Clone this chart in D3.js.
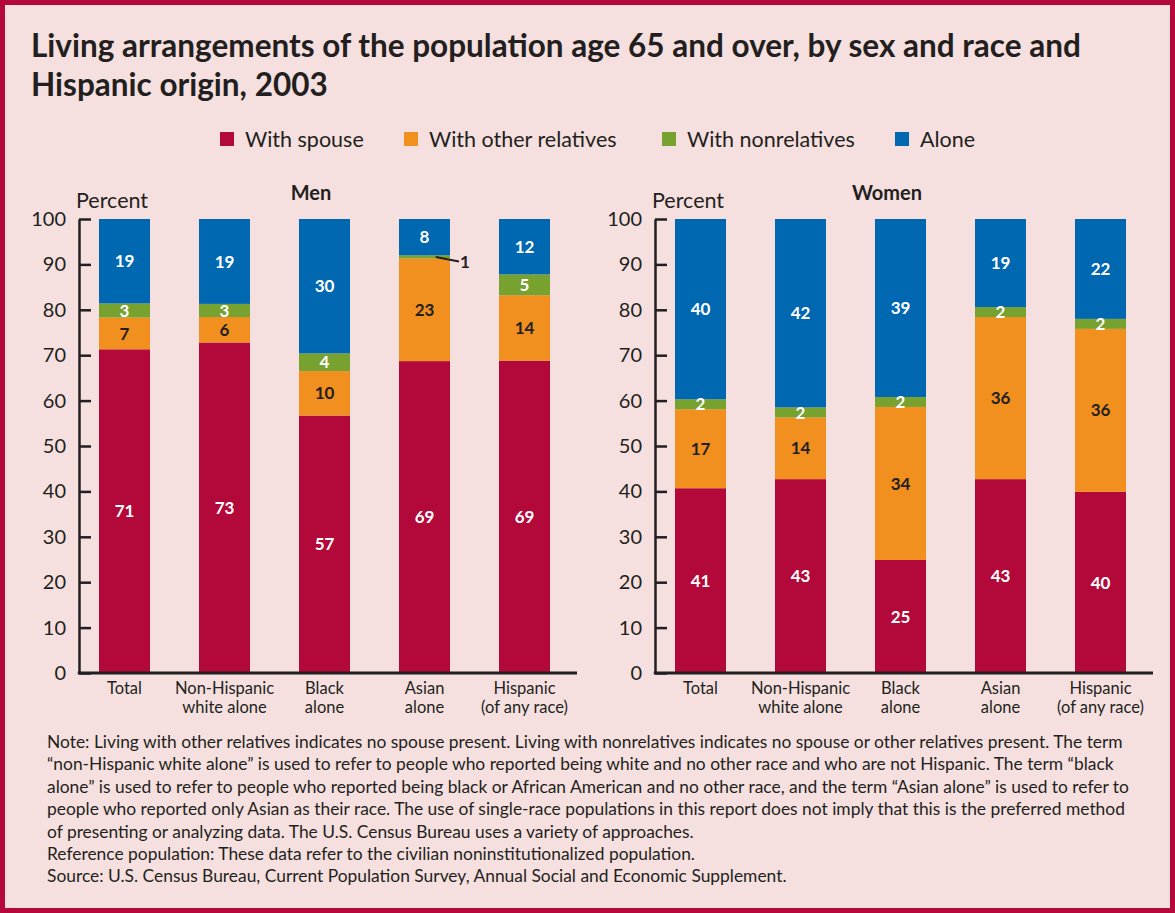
<!DOCTYPE html>
<html>
<head>
<meta charset="utf-8">
<script src="https://cdn.jsdelivr.net/npm/d3@7"></script>
<style>
  body { margin: 0; background: #f5dfdf; }
  svg { display: block; }
</style>
</head>
<body>
<svg id="chart" width="1175" height="913"></svg>
<script>
// Data
const categories = ['Total', 'Non-Hispanic white alone', 'Black alone', 'Asian alone', 'Hispanic (of any race)'];
const categoryLines = [['Total'], ['Non-Hispanic', 'white alone'], ['Black', 'alone'], ['Asian', 'alone'], ['Hispanic', '(of any race)']];
const seriesKeys = ['spouse', 'otherRelatives', 'nonrelatives', 'alone'];
const seriesNames = ['With spouse', 'With other relatives', 'With nonrelatives', 'Alone'];
const yTicks = [0, 10, 20, 30, 40, 50, 60, 70, 80, 90, 100];

const menSpouse         = [71.3, 72.8, 56.7, 68.7, 68.8];
const menOtherRelatives = [7.0, 5.6, 9.8, 22.6, 14.4];
const menNonrelatives   = [3.1, 2.9, 3.9, 0.7, 4.6];
const menAlone          = [18.6, 18.7, 29.6, 8.0, 12.2];

const womenSpouse         = [40.7, 42.7, 24.9, 42.7, 39.9];
const womenOtherRelatives = [17.4, 13.6, 33.7, 35.7, 35.9];
const womenNonrelatives   = [2.2, 2.2, 2.2, 2.2, 2.2];
const womenAlone          = [39.7, 41.5, 39.2, 19.4, 22.0];

const noteLines = [
  'Note:  Living with other relatives indicates no spouse present. Living with nonrelatives indicates no spouse or other relatives present.  The term',
  '\u201cnon-Hispanic white alone\u201d is used to refer to people who reported being white and no other race and who are not Hispanic.  The term \u201cblack',
  'alone\u201d is used to refer to people who reported being black or African American and no other race, and the term \u201cAsian alone\u201d is used to refer to',
  'people who reported only Asian as their race.  The use of single-race populations in this report does not imply that this is the preferred method',
  'of presenting or analyzing data.  The U.S. Census Bureau uses a variety of approaches.',
  'Reference population: These data refer to the civilian noninstitutionalized population.',
  'Source:  U.S. Census Bureau, Current Population Survey, Annual Social and Economic Supplement.'
];

// Variables
const width = 1175, height = 913,
      font = 'Lato, "Open Sans", sans-serif',
      ink = '#231f20',
      colors = ['#b3083a', '#f18f1f', '#78a22f', '#0067b1'],
      labelColors = ['#ffffff', ink, '#ffffff', '#ffffff'];

const svg = d3.select('#chart');

// Frame
svg.append('rect')
   .attr('x', 2.5).attr('y', 2.5)
   .attr('width', width - 5).attr('height', height - 5)
   .attr('fill', '#f5dfdf')
   .attr('stroke', '#b5093b')
   .attr('stroke-width', 5);

// Title
const title = svg.append('text')
   .attr('font-family', font)
   .attr('font-weight', 'bold')
   .attr('font-size', 31.5)
   .attr('fill', ink);
title.append('tspan').attr('x', 31).attr('y', 57)
   .text('Living arrangements of the population age 65 and over, by sex and race and');
title.append('tspan').attr('x', 31).attr('y', 96)
   .text('Hispanic origin, 2003');

// Legend
const legendX = [220, 404, 662, 895];
const legend = svg.append('g').selectAll('g')
   .data(seriesNames)
   .enter()
   .append('g')
   .attr('transform', (d, i) => `translate(${legendX[i]}, 132)`);
legend.append('rect')
   .attr('width', 14).attr('height', 14)
   .attr('fill', (d, i) => colors[i]);
legend.append('text')
   .attr('x', 25).attr('y', 15)
   .attr('font-family', font)
   .attr('font-size', 21.5)
   .attr('fill', ink)
   .text(d => d);

// Scales
const yScale = d3.scaleLinear()
                 .domain([0, 100])
                 .range([673, 219]);

const panels = [
  {name: 'Men', x0: 79, values: [menSpouse, menOtherRelatives, menNonrelatives, menAlone]},
  {name: 'Women', x0: 655, values: [womenSpouse, womenOtherRelatives, womenNonrelatives, womenAlone]}
];

const stack = d3.stack().keys(seriesKeys);

panels.forEach(function(p) {
  const rows = categories.map(function(c, i) {
    const row = {category: c, index: i};
    seriesKeys.forEach((k, s) => row[k] = p.values[s][i]);
    return row;
  });
  const series = stack(rows);

  const xScale = d3.scaleBand()
                   .domain(categories)
                   .range([p.x0 - 4.5, p.x0 + 495.5])
                   .paddingInner(0.49)
                   .paddingOuter(0.245);

  const g = svg.append('g');

  // Bars
  g.selectAll('g.series')
   .data(series)
   .enter()
   .append('g')
   .attr('class', 'series')
   .attr('fill', (d, i) => colors[i])
   .selectAll('rect')
   .data(d => d)
   .enter()
   .append('rect')
   .attr('x', d => xScale(d.data.category))
   .attr('width', xScale.bandwidth())
   .attr('y', d => yScale(d[1]))
   .attr('height', d => yScale(d[0]) - yScale(d[1]));

  // Value labels
  series.forEach(function(s, si) {
    s.forEach(function(d) {
      const v = p.values[si][d.data.index];
      const cx = xScale(d.data.category) + xScale.bandwidth() / 2;
      const cy = (yScale(d[0]) + yScale(d[1])) / 2;
      if (v < 1) {
        // small slice: label outside with a leader line
        const x1 = xScale(d.data.category) + xScale.bandwidth() * 0.72,
              x2 = xScale(d.data.category) + xScale.bandwidth() + 9;
        g.append('line')
         .attr('x1', x1).attr('y1', cy)
         .attr('x2', x2).attr('y2', cy + 4.5)
         .attr('stroke', ink).attr('stroke-width', 2);
        g.append('text')
         .attr('x', x2 + 1).attr('y', cy + 4.5)
         .attr('dy', '0.36em')
         .attr('font-family', font).attr('font-weight', 'bold').attr('font-size', 17)
         .attr('fill', ink)
         .text(Math.round(v));
      } else {
        g.append('text')
         .attr('x', cx).attr('y', cy)
         .attr('dy', '0.36em')
         .attr('text-anchor', 'middle')
         .attr('font-family', font).attr('font-weight', 'bold').attr('font-size', 17)
         .attr('fill', labelColors[si])
         .text(Math.round(v));
      }
    });
  });

  // Y axis
  const yAxis = g.append('g')
     .attr('transform', `translate(${p.x0}, 0)`)
     .call(d3.axisLeft(yScale).tickValues(yTicks).tickSizeInner(-12).tickSizeOuter(0).tickPadding(13));
  yAxis.select('.domain').attr('stroke', ink).attr('stroke-width', 2.5);
  yAxis.selectAll('.tick line').attr('stroke', ink).attr('stroke-width', 2.5);
  yAxis.selectAll('.tick text')
     .attr('font-family', font).attr('font-size', 20).attr('fill', ink);

  // Baseline
  g.append('line')
   .attr('x1', p.x0 - 1.25).attr('x2', p.x0 + 498)
   .attr('y1', yScale(0)).attr('y2', yScale(0))
   .attr('stroke', ink).attr('stroke-width', 3);

  // Category labels, one text per line
  categories.forEach(function(c, i) {
    categoryLines[i].forEach(function(line, li) {
      g.append('text')
       .attr('x', xScale(c) + xScale.bandwidth() / 2)
       .attr('y', 693.5 + li * 19.5)
       .attr('text-anchor', 'middle')
       .attr('font-family', font).attr('font-size', 16.5)
       .attr('fill', ink)
       .text(line);
    });
  });

  // Panel titles
  g.append('text')
   .attr('x', p.x0 - 3).attr('y', 208)
   .attr('font-family', font).attr('font-size', 21.5).attr('fill', ink)
   .text('Percent');
  g.append('text')
   .attr('x', p.x0 + 232).attr('y', 200)
   .attr('text-anchor', 'middle')
   .attr('font-family', font).attr('font-weight', 'bold').attr('font-size', 20).attr('fill', ink)
   .text(p.name);
});

// Notes
svg.append('g').selectAll('text')
   .data(noteLines)
   .enter()
   .append('text')
   .attr('x', 47)
   .attr('y', (d, i) => 748 + i * 22.4)
   .attr('font-family', font)
   .attr('font-size', 17.4)
   .attr('fill', ink)
   .text(d => d);
</script>
</body>
</html>
